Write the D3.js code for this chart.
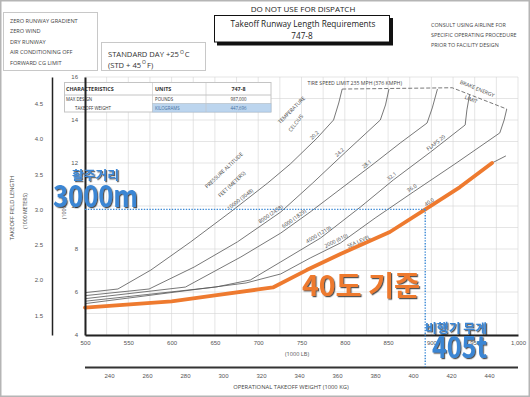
<!DOCTYPE html>
<html>
<head>
<meta charset="utf-8">
<script src="https://cdn.jsdelivr.net/npm/d3@7"></script>
<style>
  body { margin: 0; background: #fff; }
  svg { display: block; font-family: "Open Sans", sans-serif; }
  .tick text { fill: #555; font-size: 6px; }
  .grid line { stroke: #d4d4d4; stroke-width: 0.6; }
</style>
</head>
<body>
<div class="container"></div>
<script>
// axis ticks
let lbTicks = [500, 550, 600, 650, 700, 750, 800, 850, 900, 950, 1000]
let kgTicks = [240, 260, 280, 300, 320, 340, 360, 380, 400, 420, 440]
let ftTicks = [4, 6, 8, 10, 12, 14, 16]
let mTicks = [1.5, 2.0, 2.5, 3.0, 3.5, 4.0, 4.5]

// pressure altitude curves: [weight 1000 lb, field length 1000 ft]
let alt10000 = [[500, 5.97], [538, 6.14], [576, 7.02], [622, 8.33], [668, 9.72], [711, 11.07], [737, 11.95], [768, 13.16], [787, 14.0], [793, 14.79], [797, 15.44]]
let alt8000 = [[500, 5.83], [574, 6.14], [626, 7.16], [676, 8.33], [726, 9.72], [763, 11.07], [801, 12.51], [841, 14.0], [847, 14.7], [851, 15.44]]
let alt6000 = [[500, 5.69], [616, 6.23], [680, 7.63], [726, 8.74], [760, 9.72], [795, 10.79], [830, 11.86], [864, 12.93], [895, 13.86], [901, 14.56], [907, 15.44]]
let alt4000 = [[500, 5.57], [651, 6.23], [691, 6.56], [726, 7.40], [772, 8.51], [818, 9.95], [856, 11.21], [899, 12.51], [939, 13.77], [941, 14.47], [944, 15.16]]
let alt2000 = [[500, 5.46], [686, 6.42], [726, 6.84], [760, 7.58], [795, 8.28], [835, 9.44], [879, 10.65], [927, 11.95], [979, 13.40], [984, 14.0], [987, 14.51]]
let seaLevel = [[500, 5.27], [600, 5.56], [650, 5.84], [700, 6.12], [717, 6.21], [756, 7.02], [795, 7.77], [852, 8.79], [893, 9.84], [933, 10.88], [970, 12.0], [986, 12.33]]
let limitLine = [[797, 15.44], [924, 15.5], [987, 14.51]]

let curves = [alt10000, alt8000, alt6000, alt4000, alt2000, seaLevel]
let altNames = ['10000  (3048)', '8000  (2438)', '6000  (1829)', '4000  (1219)', '2000  (610)', 'SEA LEVEL']
let temps = ['20.2', '24.2', '28.1', '32.1', '36.0', '40.0']
let altLabelAt = [682, 717, 744, 772, 792, 818]
let tempLabelAt = [768, 797, 828, 857, 880, 900]

// highlighted case
let caseWeightT = 405
let caseLengthM = 3000

let headerNotes = ['ZERO RUNWAY GRADIENT', 'ZERO WIND', 'DRY RUNWAY', 'AIR CONDITIONING OFF', 'FORWARD CG LIMIT']
let consultNotes = ['CONSULT USING AIRLINE FOR', 'SPECIFIC OPERATING PROCEDURE', 'PRIOR TO FACILITY DESIGN']
let tableRows = [
    ['CHARACTERISTICS', 'UNITS', '747-8'],
    ['MAX DESIGN', 'POUNDS', '987,000'],
    ['TAKEOFF WEIGHT', 'KILOGRAMS', '447,696']
]

let width = 530
let height = 397

let xScale = d3.scaleLinear().domain([500, 1000]).range([85, 518])
let yScale = d3.scaleLinear().domain([4, 16]).range([335, 77])
let kgScale = d3.scaleLinear().domain([240, 440]).range([109, 489])
let kmScale = d3.scaleLinear().domain([4 * 0.3048, 16 * 0.3048]).range([335, 77])

let svg = d3.select('.container')
    .append('svg')
    .attr('width', width)
    .attr('height', height)

let defs = svg.append('defs')
defs.append('filter').attr('id', 'shadow')
    .attr('x', '-10%').attr('y', '-10%').attr('width', '130%').attr('height', '140%')
    .append('feDropShadow')
    .attr('dx', 1.2).attr('dy', 1.2).attr('stdDeviation', 0.7)
    .attr('flood-color', '#1a1a1a').attr('flood-opacity', 0.75)

svg.append('rect')
    .attr('x', 0.75).attr('y', 0.75)
    .attr('width', width - 1.5).attr('height', height - 1.5)
    .attr('fill', '#fff').attr('stroke', '#b5b5b5').attr('stroke-width', 1.5)

// grid
let grid = svg.append('g').attr('class', 'grid')
grid.selectAll('.vline')
    .data(d3.range(500, 1001, 25))
    .enter().append('line')
    .attr('x1', d => xScale(d)).attr('x2', d => xScale(d))
    .attr('y1', yScale(16)).attr('y2', yScale(4))
grid.selectAll('.hline')
    .data(d3.range(4, 17, 1))
    .enter().append('line')
    .attr('x1', xScale(500)).attr('x2', xScale(1000))
    .attr('y1', d => yScale(d)).attr('y2', d => yScale(d))

// header
let notes = svg.append('g')
notes.append('rect').attr('x', 3.5).attr('y', 12.5).attr('width', 94).attr('height', 58)
    .attr('fill', '#fff').attr('stroke', '#c8c8c8')
notes.selectAll('text')
    .data(headerNotes)
    .enter().append('text')
    .attr('x', 10).attr('y', (d, i) => 22.5 + i * 10.6)
    .attr('font-size', 5.6).attr('fill', '#444')
    .text(d => d)

let std = svg.append('g')
std.append('rect').attr('x', 101.5).attr('y', 42.5).attr('width', 104).attr('height', 28)
    .attr('fill', '#fff').attr('stroke', '#c8c8c8')
let t1 = std.append('text').attr('x', 108).attr('y', 57).attr('font-size', 7.6).attr('fill', '#333')
t1.append('tspan').text('STANDARD DAY +25')
t1.append('tspan').attr('font-size', 5).attr('dy', -3.5).attr('dx', 1).text('O')
t1.append('tspan').attr('dy', 3.5).attr('dx', 1).text('C')
let t2 = std.append('text').attr('x', 108).attr('y', 67.5).attr('font-size', 7.6).attr('fill', '#333')
t2.append('tspan').text('(STD + 45')
t2.append('tspan').attr('font-size', 5).attr('dy', -3.5).attr('dx', 1).text('O')
t2.append('tspan').attr('dy', 3.5).attr('dx', 1).text('F)')

svg.append('text').attr('x', 303).attr('y', 12).attr('text-anchor', 'middle')
    .attr('font-size', 8).attr('fill', '#222').text('DO NOT USE FOR DISPATCH')
svg.append('rect').attr('x', 217).attr('y', 18).attr('width', 176).attr('height', 27.5).attr('fill', '#111')
svg.append('rect').attr('x', 214.5).attr('y', 15.5).attr('width', 175).attr('height', 26.5)
    .attr('fill', '#fff').attr('stroke', '#111')
svg.append('text').attr('x', 303).attr('y', 27).attr('text-anchor', 'middle')
    .attr('font-size', 8.2).attr('fill', '#222').text('Takeoff Runway Length Requirements')
svg.append('text').attr('x', 302).attr('y', 39).attr('text-anchor', 'middle')
    .attr('font-size', 8.2).attr('fill', '#222').text('747-8')

svg.append('g').selectAll('text')
    .data(consultNotes)
    .enter().append('text')
    .attr('x', 431).attr('y', (d, i) => 27 + i * 10)
    .attr('font-size', 5.4).attr('fill', '#444')
    .text(d => d)

// characteristics table
let table = svg.append('g')
let colX = [64.5, 152.5, 206, 271]
let rowY = [82.5, 95, 103.5, 112]
table.append('rect').attr('x', colX[0]).attr('y', rowY[0])
    .attr('width', colX[3] - colX[0]).attr('height', rowY[3] - rowY[0])
    .attr('fill', '#fff').attr('stroke', '#c4c4c4')
table.append('rect').attr('x', colX[1]).attr('y', rowY[2])
    .attr('width', colX[3] - colX[1]).attr('height', rowY[3] - rowY[2])
    .attr('fill', '#bcd5ee').attr('stroke', '#9dbbd9').attr('stroke-width', 0.5)
table.append('line').attr('x1', colX[0]).attr('x2', colX[3]).attr('y1', rowY[1]).attr('y2', rowY[1])
    .attr('stroke', '#c4c4c4')
table.append('line').attr('x1', colX[1]).attr('x2', colX[3]).attr('y1', rowY[2]).attr('y2', rowY[2])
    .attr('stroke', '#c4c4c4').attr('stroke-width', 0.5)
table.selectAll('.col')
    .data([colX[1], colX[2]])
    .enter().append('line')
    .attr('x1', d => d).attr('x2', d => d).attr('y1', rowY[0]).attr('y2', rowY[3])
    .attr('stroke', '#c4c4c4').attr('stroke-width', 0.6)
tableRows.forEach((row, r) => {
    let baseY = r === 0 ? 91 : (r === 1 ? 101.3 : 109.8)
    row.forEach((cell, c) => {
        table.append('text')
            .attr('x', c === 2 ? (colX[2] + colX[3]) / 2 : (c === 0 ? (r === 2 ? 75 : 66) : colX[1] + 2.5))
            .attr('y', baseY)
            .attr('text-anchor', c === 2 ? 'middle' : 'start')
            .attr('font-size', r === 0 ? 5.4 : 4.4)
            .attr('font-weight', r === 0 ? 'bold' : 'normal')
            .attr('fill', r === 2 && c > 0 ? '#3f6f9f' : '#333')
            .text(cell)
    })
})

// curves
let line = d3.line().x(d => xScale(d[0])).y(d => yScale(d[1]))

svg.append('g').selectAll('path')
    .data(curves)
    .enter().append('path')
    .attr('d', line)
    .attr('fill', 'none')
    .attr('stroke', '#555')
    .attr('stroke-width', 0.8)

svg.append('path')
    .attr('d', line(limitLine))
    .attr('fill', 'none')
    .attr('stroke', '#555')
    .attr('stroke-width', 0.8)
    .attr('stroke-dasharray', '4,2')

// label on a curve, rotated along it
function onCurve(points, lb) {
    let i = 1
    while (i < points.length - 1 && points[i][0] < lb) i++
    let a = points[i - 1], b = points[i]
    let t = (lb - a[0]) / (b[0] - a[0])
    let kft = a[1] + t * (b[1] - a[1])
    let ang = Math.atan2(yScale(b[1]) - yScale(a[1]), xScale(b[0]) - xScale(a[0])) * 180 / Math.PI
    return { x: xScale(lb), y: yScale(kft), ang: ang }
}

function curveLabel(points, lb, text) {
    let p = onCurve(points, lb)
    svg.append('text')
        .attr('transform', `translate(${p.x},${p.y}) rotate(${p.ang})`)
        .attr('dy', -2.2)
        .attr('text-anchor', 'middle')
        .attr('font-size', 5.2)
        .attr('fill', '#444')
        .text(text)
}

curves.forEach((c, i) => {
    curveLabel(c, altLabelAt[i], altNames[i])
    curveLabel(c, tempLabelAt[i], temps[i])
})
curveLabel(alt4000, 908, 'FLAPS 20')

function note(lb, kft, ang, text, anchor) {
    svg.append('text')
        .attr('transform', `translate(${xScale(lb)},${yScale(kft)}) rotate(${ang})`)
        .attr('text-anchor', anchor || 'middle')
        .attr('font-size', 5.2)
        .attr('fill', '#444')
        .text(text)
}
note(662, 11.6, -43, 'PRESSURE ALTITUDE')
note(671, 10.95, -43, 'FEET   (METERS)')
note(740, 14.4, -45, 'TEMPERATURE')
note(745, 13.8, -52, 'CELCIUS')
note(757, 15.65, 0, 'TIRE SPEED LIMIT 235 MPH (376 KMPH)', 'start')
note(952, 15.38, 22, 'BRAKE ENERGY')
note(945, 14.88, 22, 'LIMIT')

// highlighted sea level 40 C line
svg.append('path')
    .attr('d', line(seaLevel.filter(d => d[0] <= 970)))
    .attr('fill', 'none')
    .attr('stroke', '#ee7a2f')
    .attr('stroke-width', 3.8)
    .attr('stroke-linecap', 'round')
    .attr('stroke-linejoin', 'round')

// axes
let ftAxis = d3.axisLeft(yScale).tickValues(ftTicks).tickSize(0).tickPadding(7)
svg.append('g')
    .attr('transform', `translate(${xScale(500)},0)`)
    .call(ftAxis)
    .call(g => g.select('.domain').attr('stroke', '#222').attr('stroke-width', 2))

let mAxis = d3.axisLeft(kmScale).tickValues(mTicks).tickSize(0).tickPadding(9)
    .tickFormat(d3.format('.1f'))
svg.append('g')
    .attr('transform', 'translate(52,0)')
    .call(mAxis)
    .call(g => g.select('.domain').attr('stroke', '#222').attr('stroke-width', 1.5))

let lbAxis = d3.axisBottom(xScale).tickValues(lbTicks).tickSize(0).tickPadding(6)
svg.append('g')
    .attr('transform', `translate(0,${yScale(4)})`)
    .call(lbAxis)
    .call(g => g.select('.domain').attr('stroke', '#222').attr('stroke-width', 2))

let kgAxis = d3.axisBottom(kgScale).tickValues(kgTicks).tickSize(0).tickPadding(6)
svg.append('g')
    .attr('transform', 'translate(0,367.5)')
    .call(kgAxis)
    .call(g => g.select('.domain').attr('d', `M${xScale(500)},0H${xScale(1000)}`)
        .attr('stroke', '#333').attr('stroke-width', 2.2))

svg.append('text').attr('x', 297).attr('y', 356).attr('text-anchor', 'middle')
    .attr('font-size', 5.6).attr('fill', '#555').text('(1000 LB)')
svg.append('text').attr('x', 291).attr('y', 388.5).attr('text-anchor', 'middle')
    .attr('font-size', 5.8).attr('fill', '#444').text('OPERATIONAL TAKEOFF WEIGHT (1000 KG)')
svg.append('text').attr('transform', 'translate(14,208) rotate(-90)').attr('text-anchor', 'middle')
    .attr('font-size', 5.8).attr('fill', '#444').text('TAKEOFF FIELD LENGTH')
svg.append('text').attr('transform', 'translate(27,211) rotate(-90)').attr('text-anchor', 'middle')
    .attr('font-size', 5.2).attr('fill', '#444').text('(1000 METERS)')
svg.append('text').attr('transform', 'translate(66,208) rotate(-90)').attr('text-anchor', 'middle')
    .attr('font-size', 5.2).attr('fill', '#444').text('(1000 FT)')

// highlighted case: 405 t / 3000 m
let caseX = xScale(caseWeightT * 2.20462)
let caseY = yScale(caseLengthM / 304.8)
svg.append('line')
    .attr('x1', xScale(500)).attr('x2', caseX)
    .attr('y1', caseY).attr('y2', caseY)
    .attr('stroke', '#3d8ad6').attr('stroke-width', 1.4).attr('stroke-dasharray', '1.4,1.4')
svg.append('line')
    .attr('x1', caseX).attr('x2', caseX)
    .attr('y1', caseY).attr('y2', 367)
    .attr('stroke', '#3d8ad6').attr('stroke-width', 1.4).attr('stroke-dasharray', '1.4,1.4')

let bigText = svg.append('g')
    .attr('font-family', '"Noto Sans CJK KR", sans-serif')
    .attr('font-weight', 'bold')
    .attr('filter', 'url(#shadow)')
bigText.append('text').attr('x', 72).attr('y', 180).attr('font-size', 12)
    .attr('fill', '#3b86d4').attr('textLength', 47).attr('lengthAdjust', 'spacingAndGlyphs').text('활주거리')
bigText.append('text').attr('x', 53).attr('y', 207).attr('font-size', 30)
    .attr('fill', '#3b86d4').attr('textLength', 85).attr('lengthAdjust', 'spacingAndGlyphs').text('3000m')
bigText.append('text').attr('x', 302).attr('y', 296).attr('font-size', 28)
    .attr('fill', '#ee7a2f').attr('textLength', 118).attr('lengthAdjust', 'spacingAndGlyphs').text('40도 기준')
bigText.append('text').attr('x', 425).attr('y', 333).attr('font-size', 12)
    .attr('fill', '#3b86d4').attr('textLength', 62).attr('lengthAdjust', 'spacingAndGlyphs').text('비행기 무게')
bigText.append('text').attr('x', 432).attr('y', 358).attr('font-size', 31)
    .attr('fill', '#3b86d4').attr('textLength', 55).attr('lengthAdjust', 'spacingAndGlyphs').text('405t')
</script>
</body>
</html>
